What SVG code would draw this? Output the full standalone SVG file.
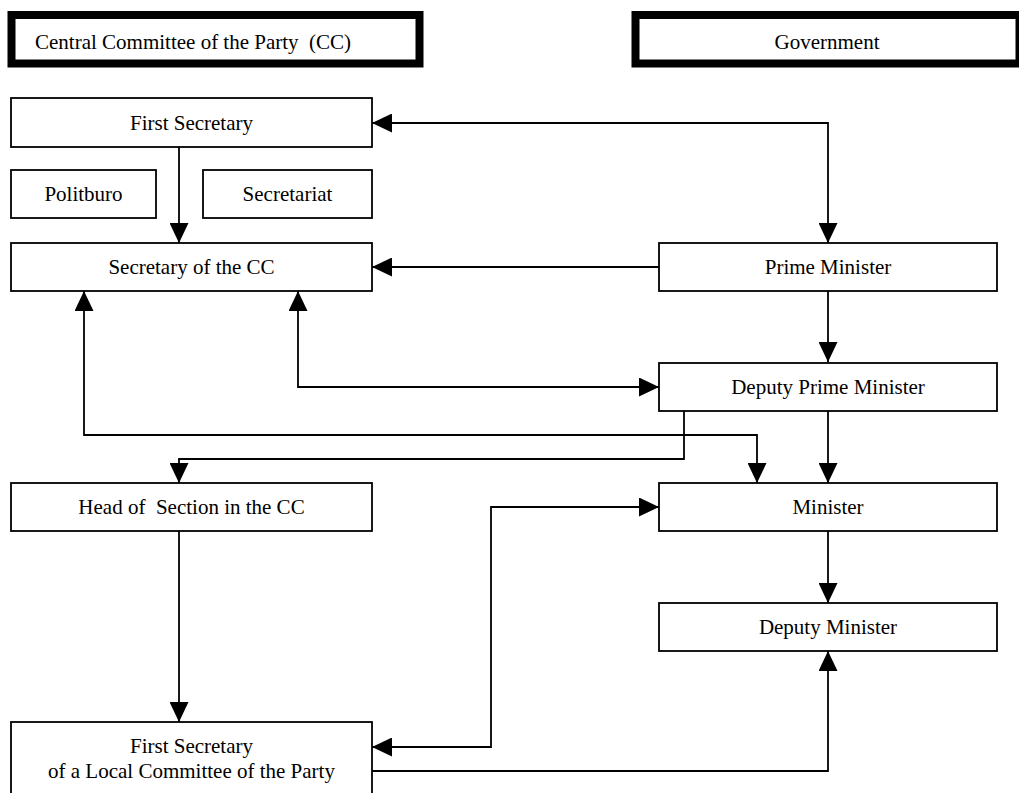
<svg xmlns="http://www.w3.org/2000/svg" width="1019" height="793" viewBox="0 0 1019 793">
<defs>
<style>
.box{fill:#fff;stroke:#000;stroke-width:1.8}
.hdr{fill:#fff;stroke:#000;stroke-width:8}
.t{font-family:"Liberation Serif","Times New Roman",serif;font-size:21px;fill:#000;text-anchor:middle}
.c{fill:none;stroke:#000;stroke-width:1.8}
.a1{marker-end:url(#ah)}
.a2{marker-start:url(#ah);marker-end:url(#ah)}
</style>
<marker id="ah" markerUnits="userSpaceOnUse" markerWidth="20" markerHeight="19" refX="20" refY="9.5" orient="auto-start-reverse" viewBox="0 0 20 19">
<path d="M0,0 L20,9.5 L0,19 Z" fill="#000"/>
</marker>
</defs>
<rect width="1019" height="793" fill="#fff"/>
<g id="connectors">
<path class="c a2" d="M828 243 V123 H372"/>
<path class="c a1" d="M179 147 V243"/>
<path class="c a1" d="M659 267 H372"/>
<path class="c a1" d="M828 291 V362"/>
<path class="c a2" d="M298 291 V387 H659"/>
<path class="c a2" d="M84 291 V435 H757 V483"/>
<path class="c a1" d="M684 411 V459 H179 V483"/>
<path class="c a1" d="M828 411 V483"/>
<path class="c a1" d="M179 531 V722"/>
<path class="c a1" d="M828 531 V603"/>
<path class="c a2" d="M372 747 H491 V507 H659"/>
<path class="c a1" d="M372 771 H828 V651"/>
</g>
<g id="hdr-cc">
<rect class="hdr" x="11.5" y="15" width="408" height="48.5"/>
<text class="t" x="35" y="49" style="text-anchor:start" xml:space="preserve">Central Committee of the Party  (CC)</text>
</g>
<g id="hdr-gov">
<rect class="hdr" x="635.5" y="15" width="384" height="48.5"/>
<text class="t" x="827" y="49">Government</text>
</g>
<g id="first-secretary">
<rect class="box" x="11" y="98" width="361" height="49"/>
<text class="t" x="191.5" y="130">First Secretary</text>
</g>
<g id="politburo">
<rect class="box" x="11" y="170" width="145" height="48"/>
<text class="t" x="83.5" y="201">Politburo</text>
</g>
<g id="secretariat">
<rect class="box" x="203" y="170" width="169" height="48"/>
<text class="t" x="287.5" y="201">Secretariat</text>
</g>
<g id="secretary-cc">
<rect class="box" x="11" y="243" width="361" height="48"/>
<text class="t" x="191.5" y="274">Secretary of the CC</text>
</g>
<g id="prime-minister">
<rect class="box" x="659" y="243" width="338" height="48"/>
<text class="t" x="828" y="274">Prime Minister</text>
</g>
<g id="deputy-prime-minister">
<rect class="box" x="659" y="363" width="338" height="48"/>
<text class="t" x="828" y="394">Deputy Prime Minister</text>
</g>
<g id="head-of-section">
<rect class="box" x="11" y="483" width="361" height="48"/>
<text class="t" x="191.5" y="514" xml:space="preserve">Head of  Section in the CC</text>
</g>
<g id="minister">
<rect class="box" x="659" y="483" width="338" height="48"/>
<text class="t" x="828" y="514">Minister</text>
</g>
<g id="deputy-minister">
<rect class="box" x="659" y="603" width="338" height="48"/>
<text class="t" x="828" y="634">Deputy Minister</text>
</g>
<g id="local-first-secretary">
<rect class="box" x="11" y="722" width="361" height="90"/>
<text class="t" x="191.5" y="753">First Secretary</text>
<text class="t" x="191.5" y="778">of a Local Committee of the Party</text>
</g>
</svg>
